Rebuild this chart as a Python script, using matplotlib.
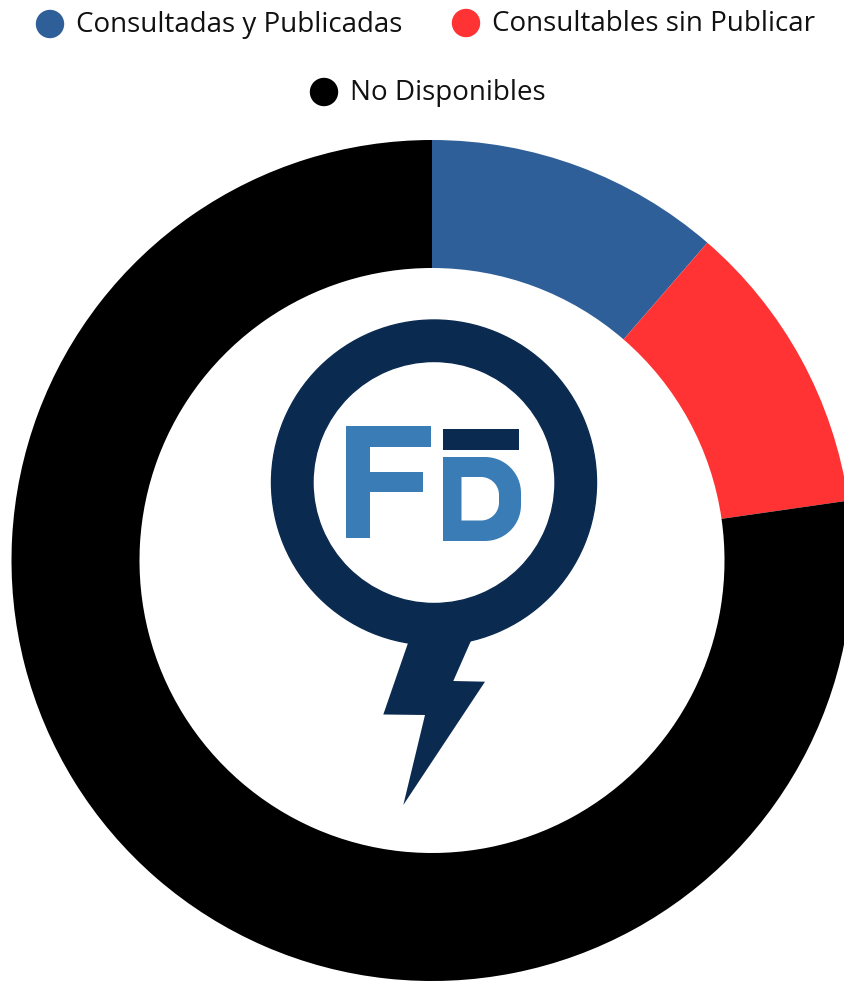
import matplotlib.pyplot as plt
from matplotlib.patches import Circle, Polygon, Rectangle, Wedge
import numpy as np

categories = ['Consultadas y Publicadas', 'Consultables sin Publicar', 'No Disponibles']
values = [5, 5, 34]
colors = ['#2F5F98', '#FF3333', '#000000']

W, H = 845, 983
NAVY = '#0A2A50'
LIGHT = '#3A7CB5'


def py(y):
    # pixel row (from top) -> axes y
    return H - y


fig = plt.figure(figsize=(W / 100, H / 100), dpi=100)
ax = fig.add_axes([0, 0, 1, 1])

ax.pie(values, colors=colors, startangle=90, counterclock=False,
       radius=420.5, center=(432, py(560.5)),
       wedgeprops=dict(width=128, linewidth=0))

# legend
legend_pos = [(50, 24), (466, 23), (324, 92)]
for (cx, cy), label, col in zip(legend_pos, categories, colors):
    ax.add_patch(Circle((cx, py(cy)), 13.5, color=col, zorder=5))
    ax.text(cx + 26, py(cy) - 1, label, fontsize=20, family='Open Sans',
            va='center', ha='left', color='#111111', zorder=5)

# logo: ring
ax.add_patch(Wedge((434, py(482.5)), 162.5, 0, 360, width=41.5,
                   color=NAVY, zorder=4))

# bolt
bolt = [(413, 630), (408, 643), (383.3, 714.5), (425, 715), (403.3, 805),
        (485, 681.7), (453.3, 681), (470, 643), (476, 630)]
ax.add_patch(Polygon([(x, py(y)) for x, y in bolt], closed=True,
                     color=NAVY, zorder=4, linewidth=0))

# F
ax.add_patch(Rectangle((346.5, py(538)), 24, 112, color=LIGHT, zorder=5, lw=0))
ax.add_patch(Rectangle((346.5, py(446.5)), 85, 20.5, color=LIGHT, zorder=5, lw=0))
ax.add_patch(Rectangle((346.5, py(491.5)), 77, 20, color=LIGHT, zorder=5, lw=0))

# bar over D
ax.add_patch(Rectangle((443, py(450)), 76.5, 21, color=NAVY, zorder=5, lw=0))


def d_path(x0, x1, yt, yb, r):
    pts = [(x0, yt)]
    for a in np.linspace(-np.pi / 2, 0, 20):
        pts.append((x1 - r + r * np.cos(a), yt + r + r * np.sin(a)))
    for a in np.linspace(0, np.pi / 2, 20):
        pts.append((x1 - r + r * np.cos(a), yb - r + r * np.sin(a)))
    pts.append((x0, yb))
    return [(x, py(y)) for x, y in pts]


ax.add_patch(Polygon(d_path(443, 521, 457, 541, 36), closed=True,
                     color=LIGHT, zorder=5, lw=0))
ax.add_patch(Polygon(d_path(461.5, 499, 477, 520.5, 18), closed=True,
                     color='white', zorder=6, lw=0))

ax.set_xlim(0, W)
ax.set_ylim(0, H)
ax.set_aspect('auto')
ax.axis('off')

fig.savefig('out.png', dpi=100)
